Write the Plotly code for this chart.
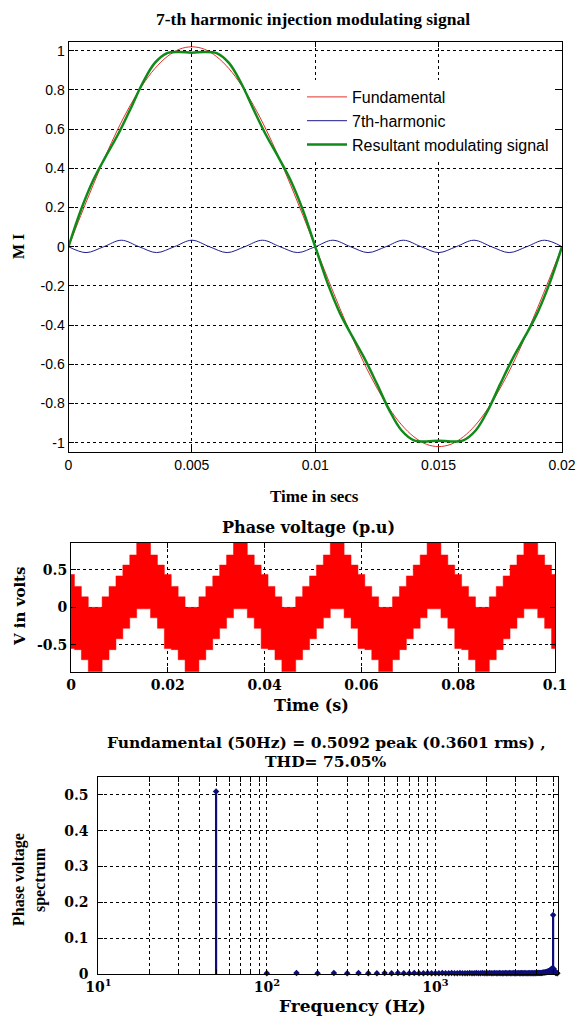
import plotly.graph_objects as go

W, H = 577, 1017

# ---------------- Top panel: modulating signals ----------------
sig_time_ms = [0, 0.5, 1, 1.5, 2, 2.5, 3, 3.5, 4, 4.5, 5, 5.5, 6, 6.5, 7, 7.5, 8, 8.5, 9, 9.5,
               10, 10.5, 11, 11.5, 12, 12.5, 13, 13.5, 14, 14.5, 15, 15.5, 16, 16.5, 17, 17.5,
               18, 18.5, 19, 19.5, 20]
fundamental = [0, 0.160, 0.315, 0.463, 0.600, 0.721, 0.825, 0.909, 0.970, 1.008, 1.020,
               1.008, 0.970, 0.909, 0.825, 0.721, 0.600, 0.463, 0.315, 0.160, 0,
               -0.160, -0.315, -0.463, -0.600, -0.721, -0.825, -0.909, -0.970, -1.008, -1.020,
               -1.008, -0.970, -0.909, -0.825, -0.721, -0.600, -0.463, -0.315, -0.160, 0]
resultant = [0, 0.186, 0.339, 0.458, 0.571, 0.700, 0.834, 0.938, 0.988, 0.994, 0.990,
             0.994, 0.988, 0.938, 0.834, 0.700, 0.571, 0.458, 0.339, 0.186, 0,
             -0.186, -0.339, -0.458, -0.571, -0.700, -0.834, -0.938, -0.988, -0.994, -0.990,
             -0.994, -0.988, -0.938, -0.834, -0.700, -0.571, -0.458, -0.339, -0.186, 0]
harm7_time_ms = [0, 0.71, 1.43, 2.14, 2.86, 3.57, 4.29, 5.00, 5.71, 6.43, 7.14, 7.86, 8.57,
                 9.29, 10.00, 10.71, 11.43, 12.14, 12.86, 13.57, 14.29, 15.00, 15.71, 16.43,
                 17.14, 17.86, 18.57, 19.29, 20.00]
harmonic7 = [0, -0.03, 0, 0.033, 0, -0.03, 0, 0.033, 0, -0.03, 0, 0.033, 0, -0.03, 0,
             0.033, 0, -0.03, 0, 0.033, 0, -0.03, 0, 0.033, 0, -0.03, 0, 0.033, 0]
top_xticks = [0, 0.005, 0.01, 0.015, 0.02]
top_xtick_text = ["0", "0.005", "0.01", "0.015", "0.02"]
top_yticks = [-1, -0.8, -0.6, -0.4, -0.2, 0, 0.2, 0.4, 0.6, 0.8, 1]
top_ytick_text = ["-1", "-0.8", "-0.6", "-0.4", "-0.2", "0", "0.2", "0.4", "0.6", "0.8", "1"]

# ---------------- Middle panel: phase voltage envelope (one period) -------
env_seg_start_ms = [0, 0.71, 2.14, 3.57, 6.43, 7.86, 9.29, 10.71, 12.14, 13.57, 16.43, 17.86, 19.29]
env_upper = [0.44, 0.28, 0.14, 0.0, 0.14, 0.28, 0.42, 0.565, 0.70, 0.90, 0.70, 0.565, 0.44]
env_lower = [-0.55, -0.565, -0.70, -0.90, -0.70, -0.565, -0.42, -0.28, -0.14, -0.02, -0.14, -0.28, -0.55]
env_period_ms = 20
env_periods = 5
mid_xticks = [0, 0.02, 0.04, 0.06, 0.08, 0.1]
mid_xtick_text = ["0", "0.02", "0.04", "0.06", "0.08", "0.1"]
mid_yticks = [-0.5, 0, 0.5]
mid_ytick_text = ["-0.5", "0", "0.5"]

# ---------------- Bottom panel: spectrum ----------------
harm_freq_hz = [50 * k for k in range(1, 107)]
harm_mag = [
    0.5092, 0.002, 0.003, 0.002, 0.003, 0.002, 0.003, 0.002, 0.002, 0.003,
    0.002, 0.003, 0.002, 0.002, 0.003, 0.002, 0.002, 0.003, 0.002, 0.002,
    0.002, 0.003, 0.002, 0.002, 0.003, 0.002, 0.002, 0.003, 0.002, 0.002,
    0.002, 0.003, 0.002, 0.002, 0.003, 0.002, 0.002, 0.003, 0.002, 0.002,
    0.002, 0.003, 0.002, 0.002, 0.003, 0.002, 0.002, 0.003, 0.002, 0.002,
    0.002, 0.003, 0.002, 0.002, 0.003, 0.002, 0.002, 0.003, 0.002, 0.002,
    0.002, 0.003, 0.002, 0.002, 0.003, 0.002, 0.002, 0.003, 0.002, 0.002,
    0.002, 0.003, 0.002, 0.002, 0.003, 0.002, 0.002, 0.003, 0.002, 0.003,
    0.003, 0.003, 0.003, 0.003, 0.003, 0.003, 0.004, 0.004, 0.004, 0.005,
    0.005, 0.006, 0.007, 0.008, 0.009, 0.010, 0.012, 0.014, 0.016, 0.165,
    0.014, 0.008, 0.004, 0.003, 0.003, 0.002]
bot_xticks = [10, 20, 30, 40, 50, 60, 70, 80, 90, 100, 200, 300, 400, 500, 600, 700, 800, 900,
              1000, 2000, 3000, 4000, 5000]
bot_xtick_text = ["10<sup>1</sup>"] + [" "] * 8 + ["10<sup>2</sup>"] + [" "] * 8 + ["10<sup>3</sup>"] + [" "] * 4
bot_yticks = [0, 0.1, 0.2, 0.3, 0.4, 0.5]
bot_ytick_text = ["0", "0.1", "0.2", "0.3", "0.4", "0.5"]

# ---------------- Build figure ----------------
sig_t = [v / 1000 for v in sig_time_ms]
h7_t = [v / 1000 for v in harm7_time_ms]

fig = go.Figure()
fig.add_trace(go.Scatter(x=sig_t, y=fundamental, mode="lines", name="Fundamental",
                         line=dict(color="#e0302a", width=1, shape="spline"), xaxis="x", yaxis="y"))
fig.add_trace(go.Scatter(x=h7_t, y=harmonic7, mode="lines", name="7th-harmonic",
                         line=dict(color="#1c1c8c", width=1, shape="spline"), xaxis="x", yaxis="y"))
fig.add_trace(go.Scatter(x=sig_t, y=resultant, mode="lines", name="Resultant modulating signal",
                         line=dict(color="#108a18", width=2.5, shape="spline"), xaxis="x", yaxis="y"))

# envelope polygon (upper steps forward, lower steps backward)
ux, uy, lx, ly = [], [], [], []
for p in range(env_periods):
    off = p * env_period_ms
    n = len(env_seg_start_ms)
    for i in range(n):
        a = off + env_seg_start_ms[i]
        b = off + (env_seg_start_ms[i + 1] if i + 1 < n else env_period_ms)
        ux += [a / 1000, b / 1000]
        uy += [env_upper[i], env_upper[i]]
        lx += [a / 1000, b / 1000]
        ly += [env_lower[i], env_lower[i]]
poly_x = ux + lx[::-1] + [ux[0]]
poly_y = uy + ly[::-1] + [uy[0]]
fig.add_trace(go.Scatter(x=poly_x, y=poly_y, mode="lines", fill="toself", fillcolor="#ff0000",
                         line=dict(color="#ff0000", width=0.5), showlegend=False, hoverinfo="skip",
                         xaxis="x2", yaxis="y2"))

# stems
sx, sy = [], []
for f, m in zip(harm_freq_hz, harm_mag):
    sx += [f, f, None]
    sy += [0, m, None]
fig.add_trace(go.Scatter(x=sx, y=sy, mode="lines", line=dict(color="#0d0d7a", width=2.2),
                         showlegend=False, xaxis="x3", yaxis="y3", cliponaxis=False))
fig.add_trace(go.Scatter(x=harm_freq_hz, y=harm_mag, mode="markers",
                         marker=dict(color="#0d0d7a", size=5, symbol="diamond"),
                         showlegend=False, xaxis="x3", yaxis="y3", cliponaxis=False))

sans = "Liberation Sans"
times = "Liberation Serif"
dserif = "DejaVu Serif"

def fx(px):
    return px / W

def fy(py):
    return 1 - py / H

common = dict(showline=True, linecolor="black", linewidth=1, mirror="ticks", ticks="inside",
              ticklen=5, tickcolor="black", showgrid=True, gridcolor="black", gridwidth=1,
              griddash="3px,3px", zeroline=False, tickmode="array", automargin=False, tickangle=0)

fig.update_layout(
    template="none",
    width=W, height=H, margin=dict(l=0, r=0, t=0, b=0, pad=0), autosize=False,
    paper_bgcolor="white", plot_bgcolor="white", showlegend=True,
    legend=dict(x=fx(302), y=fy(80), xanchor="left", yanchor="top", bgcolor="white",
                borderwidth=0, itemwidth=40, font=dict(family=sans, size=16, color="black"),
                tracegroupgap=0),
    xaxis=dict(domain=[fx(68.5), fx(562)], anchor="y", range=[0, 0.02],
               tickvals=top_xticks, ticktext=top_xtick_text,
               tickfont=dict(family=sans, size=14, color="black"), **common),
    yaxis=dict(domain=[fy(451.7), fy(41.7)], anchor="x", range=[-1.046, 1.046],
               tickvals=top_yticks, ticktext=top_ytick_text,
               tickfont=dict(family=sans, size=14, color="black"), **common),
    xaxis2=dict(domain=[fx(71), fx(555)], anchor="y2", range=[0, 0.1],
                tickvals=mid_xticks, ticktext=mid_xtick_text,
                tickfont=dict(family=dserif, size=14, color="black", weight="bold"), **common),
    yaxis2=dict(domain=[fy(671.7), fy(543)], anchor="x2", range=[-0.86, 0.86],
                tickvals=mid_yticks, ticktext=mid_ytick_text,
                tickfont=dict(family=dserif, size=14, color="black", weight="bold"), **common),
    xaxis3=dict(domain=[fx(98.3), fx(558)], anchor="y3", type="log", range=[1, 3.728],
                tickvals=bot_xticks, ticktext=bot_xtick_text,
                tickfont=dict(family=dserif, size=14, color="black", weight="bold"), **common),
    yaxis3=dict(domain=[fy(974), fy(777)], anchor="x3", range=[0, 0.55],
                tickvals=bot_yticks, ticktext=bot_ytick_text, ticklabelstandoff=6,
                tickfont=dict(family=dserif, size=14, color="black", weight="bold"), **common),
)

ann = [
    dict(text="7-th harmonic injection modulating signal", x=fx(313), y=fy(19),
         font=dict(family=times, size=17.5, weight="bold")),
    dict(text="Time in secs", x=fx(315), y=fy(496), font=dict(family=times, size=17, weight="bold")),
    dict(text="M I", x=fx(18), y=fy(247), textangle=-90, font=dict(family=times, size=16, weight="bold")),
    dict(text="Phase voltage (p.u)", x=fx(308), y=fy(527), font=dict(family=dserif, size=16, weight="bold")),
    dict(text="V in volts", x=fx(20), y=fy(607), textangle=-90, font=dict(family=dserif, size=15, weight="bold")),
    dict(text="Time (s)", x=fx(311), y=fy(705), font=dict(family=dserif, size=16, weight="bold")),
    dict(text="Fundamental (50Hz) = 0.5092 peak (0.3601 rms) ,", x=fx(326), y=fy(742),
         font=dict(family=dserif, size=15.5, weight="bold")),
    dict(text="THD= 75.05%", x=fx(326), y=fy(761), font=dict(family=dserif, size=15.5, weight="bold")),
    dict(text="Phase voltage", x=fx(19), y=fy(880), textangle=-90, font=dict(family=times, size=16, weight="bold")),
    dict(text="spectrum", x=fx(40), y=fy(880), textangle=-90, font=dict(family=times, size=16, weight="bold")),
    dict(text="Frequency (Hz)", x=fx(352), y=fy(1006), font=dict(family=dserif, size=17, weight="bold")),
]
for a in ann:
    a.update(xref="paper", yref="paper", showarrow=False, xanchor="center", yanchor="middle")
    a["font"]["color"] = "black"
fig.update_layout(annotations=ann)

# remove the page's default 8px body margin so the 577x1017 figure fills the window exactly
fig.write_html("out.html", config={"displayModeBar": False},
               post_script="document.body.style.margin='0px';")
